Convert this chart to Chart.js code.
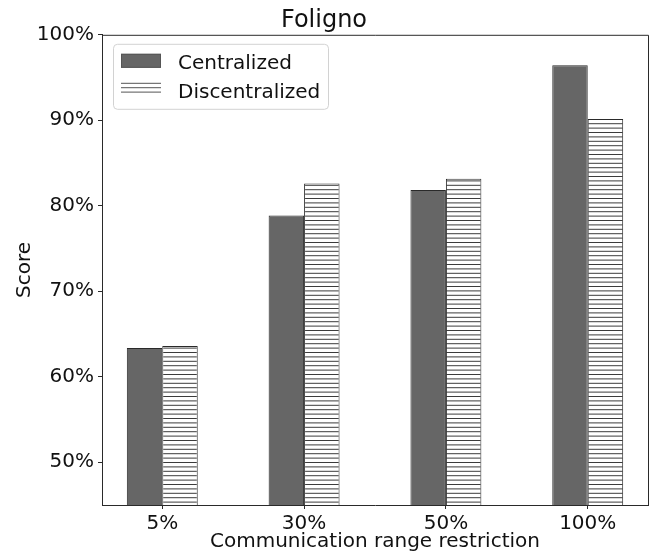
<!DOCTYPE html>
<html>
<head>
<meta charset="utf-8">
<script src="https://cdn.jsdelivr.net/npm/chart.js@4/dist/chart.umd.min.js"></script>
<style>
  html, body { margin: 0; padding: 0; background: #fff; }
  #wrap { width: 661px; height: 558px; }
</style>
</head>
<body>
<div id="wrap"><canvas id="c" width="661" height="558"></canvas></div>
<script>
// Score per communication range restriction
const categories = ['5%', '30%', '50%', '100%'];
const centralized = [63.35, 78.85, 81.85, 96.45];
const decentralized = [63.6, 82.6, 83.15, 90.15];
const seriesNames = ['Centralized', 'Discentralized'];
const yTicks = [50, 60, 70, 80, 90, 100];

const FONT = 'DejaVu Sans';
const TEXT = '#111';
const EDGE = '#2a2a2a';

const canvas = document.getElementById('c');
const ctx = canvas.getContext('2d');

// Horizontal-line hatch fill
function makeHatch() {
  const c = document.createElement('canvas');
  c.width = 8; c.height = 22;
  const g = c.getContext('2d');
  g.fillStyle = '#fff';
  g.fillRect(0, 0, 8, 22);
  g.fillStyle = '#3c3c3c';
  for (let k = 0; k < 5; k++) g.fillRect(0, k * 4.4, 8, 1);
  return ctx.createPattern(c, 'repeat');
}
const hatch = makeHatch();

// Top/right frame lines
const framePlugin = {
  id: 'frame',
  afterDatasetsDraw(chart) {
    const { left, right, top, bottom } = chart.chartArea;
    const c = chart.ctx;
    c.save();
    c.strokeStyle = EDGE;
    c.lineWidth = 1;
    c.beginPath();
    c.moveTo(left, top + 0.5);
    c.lineTo(right + 0.5, top + 0.5);
    c.lineTo(right + 0.5, bottom);
    c.stroke();
    c.restore();
  }
};

// Legend drawn inside the plot area, upper left
const legendPlugin = {
  id: 'innerLegend',
  afterDraw(chart) {
    const c = chart.ctx;
    const { left, top } = chart.chartArea;
    const x = left + 11, y = top + 9, w = 215, h = 65, r = 4;
    c.save();
    c.fillStyle = 'rgba(255,255,255,0.85)';
    c.strokeStyle = '#d2d2d2';
    c.lineWidth = 1;
    c.beginPath();
    c.roundRect(x + 0.5, y + 0.5, w, h, r);
    c.fill();
    c.stroke();

    const ds = chart.data.datasets;
    const px = x + 8, pw = 40, ph = 14;
    // first entry: solid patch
    c.fillStyle = ds[0].backgroundColor;
    c.fillRect(px, y + 10, pw, ph);
    c.strokeStyle = '#555';
    c.strokeRect(px + 0.5, y + 10.5, pw - 1, ph - 1);
    // second entry: hatch lines
    c.fillStyle = '#555';
    [0, 4.4, 8.8].forEach(d => c.fillRect(px, y + 39 + d, pw, 1));

    c.fillStyle = TEXT;
    c.font = '20px "' + FONT + '"';
    c.textBaseline = 'alphabetic';
    c.fillText(ds[0].label, x + 65, y + 25);
    c.fillText(ds[1].label, x + 65, y + 54);
    c.restore();
  }
};

const toPoints = arr => arr.map((v, i) => ({ x: i, y: v }));

new Chart(ctx, {
  type: 'bar',
  data: {
    datasets: [
      {
        label: seriesNames[0],
        data: toPoints(centralized),
        backgroundColor: '#666666',
        borderColor: EDGE,
        borderWidth: 1,
        borderSkipped: false,
        categoryPercentage: 0.5,
        barPercentage: 1.0
      },
      {
        label: seriesNames[1],
        data: toPoints(decentralized),
        backgroundColor: hatch,
        borderColor: EDGE,
        borderWidth: 1,
        borderSkipped: false,
        categoryPercentage: 0.5,
        barPercentage: 1.0
      }
    ]
  },
  options: {
    responsive: false,
    animation: false,
    devicePixelRatio: 1,
    layout: { padding: { left: 0, right: 13, top: 0, bottom: 0 } },
    plugins: {
      legend: { display: false },
      tooltip: { enabled: false },
      title: {
        display: true,
        text: 'Foligno',
        color: TEXT,
        font: { family: FONT, size: 24, weight: 'normal' },
        padding: { top: 6, bottom: 0 }
      }
    },
    scales: {
      x: {
        type: 'linear',
        offset: false,
        min: -0.425,
        max: 3.425,
        afterBuildTicks: s => { s.ticks = categories.map((_, i) => ({ value: i })); },
        afterFit: s => { s.height = 53; },
        ticks: {
          callback: v => categories[v],
          color: TEXT,
          font: { family: FONT, size: 20 },
          padding: 3,
          maxRotation: 0
        },
        grid: { display: true, offset: false, drawOnChartArea: false, drawTicks: true, tickLength: 4, color: EDGE },
        border: { display: true, color: EDGE },
        title: {
          display: true,
          text: 'Communication range restriction',
          color: TEXT,
          font: { family: FONT, size: 20 },
          padding: { top: 0, bottom: 4 }
        }
      },
      y: {
        min: 45,
        max: 100,
        afterBuildTicks: s => { s.ticks = yTicks.map(v => ({ value: v })); },
        afterFit: s => { s.width = 102; },
        ticks: {
          callback: v => v + '%',
          color: TEXT,
          font: { family: FONT, size: 20 },
          padding: 4
        },
        grid: { display: true, drawOnChartArea: false, drawTicks: true, tickLength: 4, color: EDGE },
        border: { display: true, color: EDGE },
        title: {
          display: true,
          text: 'Score',
          color: TEXT,
          font: { family: FONT, size: 20 },
          padding: { top: 13, bottom: 0 }
        }
      }
    }
  },
  plugins: [framePlugin, legendPlugin]
});
</script>
</body>
</html>
